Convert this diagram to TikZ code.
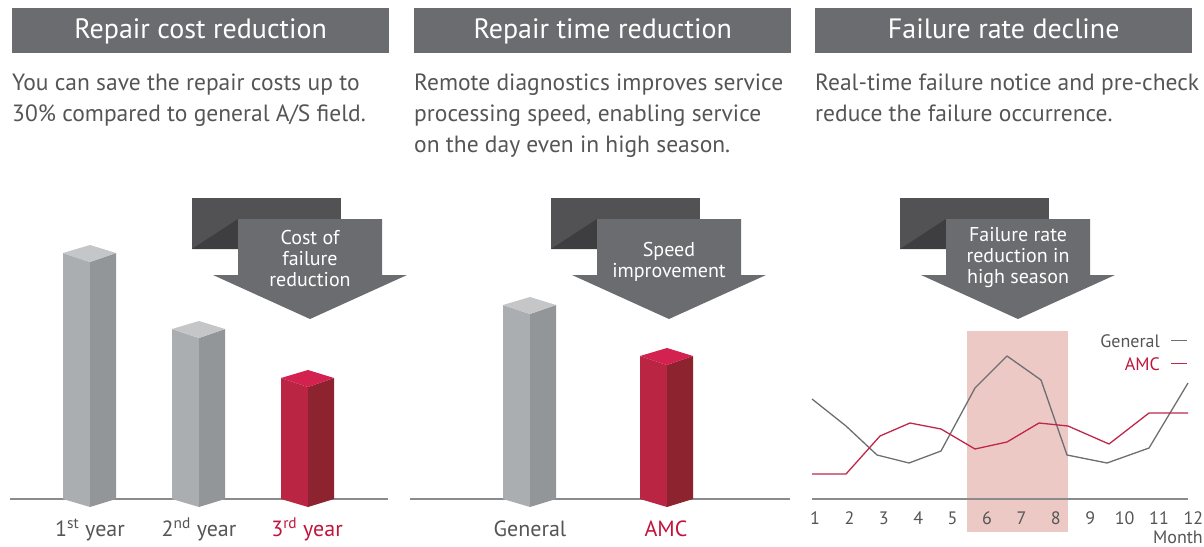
\documentclass[tikz,border=0pt]{standalone}
\usepackage{fontspec}
\setmainfont{PT Sans}
\definecolor{hdrgray}{HTML}{6B6C70}
\definecolor{txtgray}{HTML}{555557}
\definecolor{axisgray}{HTML}{8A8B8D}
\definecolor{lgred}{HTML}{C0143C}
\definecolor{barfront}{HTML}{ABAEB1}
\definecolor{barside}{HTML}{939699}
\definecolor{bartop}{HTML}{C5C6C8}
\definecolor{redfront}{HTML}{B92542}
\definecolor{redside}{HTML}{8C232F}
\definecolor{redtop}{HTML}{D42250}
\definecolor{backdark}{HTML}{525254}
\definecolor{backshade}{HTML}{3E3E40}
\definecolor{seasonpink}{HTML}{ECC9C4}
\definecolor{gencol}{HTML}{6D6E71}
\definecolor{amccol}{HTML}{C0264A}

% 3D pillar: left x, top corner y, front, side, top colour
\newcommand{\pillar}[5]{
  \fill[#3] (#1,#2) -- (#1+27,#2+9) -- (#1+27,507) -- (#1,499) -- cycle;
  \fill[#4] (#1+27,#2+9) -- (#1+53,#2) -- (#1+53,499) -- (#1+27,507) -- cycle;
  \fill[#5] (#1,#2) -- (#1+27,#2-8) -- (#1+53,#2) -- (#1+27,#2+9) -- cycle;
}
% down arrow with dark block behind it, centre x
\newcommand{\callout}[1]{
  \fill[backdark] (#1-118,198) rectangle (#1+31,249);
  \fill[backshade] (#1-118,249) -- (#1-72,219) -- (#1-72,249) -- cycle;
  \fill[hdrgray] (#1-72,219) -- (#1+72,219) -- (#1+72,275) -- (#1+97,275)
    -- (#1,319) -- (#1-97,275) -- (#1-72,275) -- cycle;
}

\begin{document}
\begin{tikzpicture}[x=1pt,y=-1pt,
    hdr/.style={fill=hdrgray,text=white,anchor=north west,minimum width=377pt,
      minimum height=45pt,inner sep=0pt,text height=20pt,text depth=4pt,
      font=\fontsize{28}{32}\selectfont},
    desc/.style={anchor=north west,align=left,inner sep=0pt,text=txtgray,
      font=\fontsize{23.5}{31}\selectfont},
    tag/.style={anchor=base,inner sep=0pt,text=txtgray,font=\fontsize{22}{26}\selectfont},
    calltext/.style={align=center,inner sep=0pt,text=white,font=\fontsize{20}{21}\selectfont},
    axis/.style={draw=axisgray,line width=1.2pt},
    small/.style={anchor=base,inner sep=0pt,text=txtgray,font=\fontsize{18}{20}\selectfont}]
  \useasboundingbox (0,0) rectangle (1204,546);

  % headers and texts
  \node[hdr] (hdrcost) at (12,8) {Repair cost reduction};
  \node[hdr] (hdrtime) at (414,8) {Repair time reduction};
  \node[hdr] (hdrfail) at (815,8) {Failure rate decline};
  \node[desc] (desccost) at (12,74) {You can save the repair costs up to\\30\% compared to general A/S field.};
  \node[desc] (desctime) at (414,74) {Remote diagnostics improves service\\processing speed, enabling service\\on the day even in high season.};
  \node[desc] (descfail) at (815,74) {Real-time failure notice and pre-check\\reduce the failure occurrence.};

  % repair cost bars
  \draw[axis] (10,499) -- (388,499);
  \pillar{63}{253}{barfront}{barside}{bartop}
  \pillar{172}{329}{barfront}{barside}{bartop}
  \pillar{281}{378}{redfront}{redside}{redtop}
  \callout{310}
  \node[calltext] (costnote) at (310,258) {Cost of\\failure\\reduction};
  \node[tag] (year1) at (90,536) {1\textsuperscript{st} year};
  \node[tag] (year2) at (199,536) {2\textsuperscript{nd} year};
  \node[tag,text=lgred] (year3) at (307,536) {3\textsuperscript{rd} year};

  % repair time bars
  \draw[axis] (410,499) -- (790,499);
  \pillar{503}{305}{barfront}{barside}{bartop}
  \pillar{640}{356}{redfront}{redside}{redtop}
  \callout{669}
  \node[calltext] (speednote) at (669,262) {Speed\\improvement};
  \node[tag] (gentag) at (530,536) {General};
  \node[tag,text=lgred] (amctag) at (666,536) {AMC};

  % failure rate chart
  \callout{1018}
  \node[calltext] (failnote) at (1018,258) {Failure rate\\reduction in\\high season};
  \fill[seasonpink] (967,331) rectangle (1068,532);
  \draw[axis] (812,499) -- (1188,499);
  \draw[gencol,line width=1.3pt,line join=round] plot coordinates {(812,399) (846,426) (877,455)
    (909,463) (941,451) (975,388) (1007,356) (1041,380) (1067,455) (1107,463) (1149,448) (1188,383)};
  \draw[amccol,line width=1.3pt,line join=round] plot coordinates {(812,474) (846,474) (880,436)
    (910,423) (941,429) (975,449) (1007,442) (1039,423) (1068,426) (1109,444) (1149,413) (1188,413)};
  \foreach \m in {1,...,12}
    \node[small] (m\m) at ({815+34.4*(\m-1)},524) {\m};
  \node[small,anchor=base east] (month) at (1203,543) {Month};
  \node[small,anchor=base east] (leggen) at (1160,347) {General};
  \node[small,anchor=base east,text=lgred] (legamc) at (1160,370) {AMC};
  \draw[gencol,line width=1.2pt] ([xshift=11pt]leggen.east) -- ++(16,0);
  \draw[amccol,line width=1.2pt] ([xshift=11pt]legamc.east) -- ++(16,0);
\end{tikzpicture}
\end{document}
